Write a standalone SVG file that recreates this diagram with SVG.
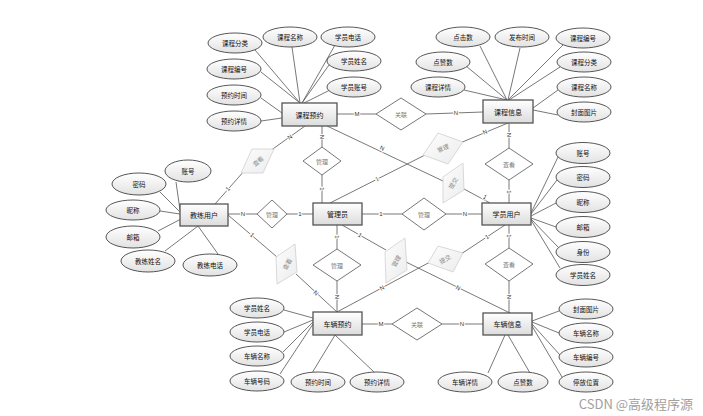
<svg xmlns="http://www.w3.org/2000/svg" width="703" height="416" viewBox="0 0 703 416">
<defs>
<linearGradient id="gEnt" x1="0" y1="0" x2="0" y2="1"><stop offset="0" stop-color="#ffffff"/><stop offset="1" stop-color="#dcdcdc"/></linearGradient>
<linearGradient id="gAttr" x1="0" y1="0" x2="0" y2="1"><stop offset="0" stop-color="#ffffff"/><stop offset="1" stop-color="#e2e2e2"/></linearGradient>
<linearGradient id="gPar" x1="0" y1="0" x2="1" y2="1"><stop offset="0" stop-color="#fdfdfd"/><stop offset="1" stop-color="#ececec"/></linearGradient>
</defs>
<style>
text{font-family:"Noto Sans CJK SC","Liberation Sans",sans-serif;text-anchor:middle;dominant-baseline:central}
.ent rect{fill:url(#gEnt);stroke:#555;stroke-width:1.3}
.ent text{font-size:7px;fill:#111}
.attr ellipse{fill:url(#gAttr);stroke:#444;stroke-width:0.9}
.attr text{font-size:6.5px;fill:#111}
.rel polygon{fill:#fff;stroke:#666;stroke-width:0.9}
.rel text{font-size:6px;fill:#777}
.par polygon{fill:url(#gPar);stroke:#cfcfcf;stroke-width:0.8}
.par text{font-size:6px;fill:#888}
#connectors line{stroke:#555;stroke-width:0.8;fill:none}
.lbl{font-family:"Liberation Sans",sans-serif;font-size:6px;fill:#333;stroke:#fff;stroke-width:2;paint-order:stroke}
.wm{font-size:13px;fill:#a0a0a0;text-anchor:end}
</style>
<rect width="703" height="416" fill="#fff"/>
<g id="connectors">
<line x1="255" y1="50" x2="300" y2="103"/>
<line x1="261" y1="72" x2="300" y2="103"/>
<line x1="261" y1="98" x2="282" y2="113"/>
<line x1="261" y1="121" x2="282" y2="118"/>
<line x1="292" y1="47" x2="300" y2="103"/>
<line x1="335" y1="45" x2="302" y2="103"/>
<line x1="329" y1="65" x2="302" y2="103"/>
<line x1="330" y1="90" x2="304" y2="103"/>
<line x1="480" y1="46" x2="507" y2="100"/>
<line x1="466" y1="66" x2="507" y2="100"/>
<line x1="464" y1="90" x2="507" y2="100"/>
<line x1="520" y1="48" x2="508" y2="100"/>
<line x1="563" y1="45" x2="508" y2="100"/>
<line x1="560" y1="67" x2="509" y2="100"/>
<line x1="558" y1="90" x2="533" y2="108"/>
<line x1="558" y1="115" x2="533" y2="110"/>
<line x1="176" y1="182" x2="180" y2="210"/>
<line x1="160" y1="192" x2="180" y2="212"/>
<line x1="160" y1="211" x2="180" y2="214"/>
<line x1="158" y1="231" x2="181" y2="219"/>
<line x1="165" y1="251" x2="198" y2="226"/>
<line x1="218" y1="254" x2="198" y2="226"/>
<line x1="558" y1="157" x2="531" y2="213"/>
<line x1="557" y1="180" x2="531" y2="214"/>
<line x1="556" y1="203" x2="531" y2="216"/>
<line x1="556" y1="227" x2="531" y2="218"/>
<line x1="558" y1="247" x2="531" y2="219"/>
<line x1="560" y1="268" x2="531" y2="220"/>
<line x1="284" y1="310" x2="313" y2="318"/>
<line x1="284" y1="332" x2="313" y2="320"/>
<line x1="283" y1="352" x2="313" y2="322"/>
<line x1="280" y1="374" x2="313" y2="324"/>
<line x1="312" y1="373" x2="335" y2="335"/>
<line x1="375" y1="373" x2="335" y2="335"/>
<line x1="559" y1="311" x2="532" y2="321"/>
<line x1="559" y1="333" x2="532" y2="322"/>
<line x1="560" y1="355" x2="532" y2="324"/>
<line x1="562" y1="377" x2="532" y2="326"/>
<line x1="488" y1="373" x2="505" y2="335"/>
<line x1="530" y1="373" x2="508" y2="335"/>
<line x1="337" y1="114" x2="376" y2="114"/>
<line x1="426" y1="114" x2="483" y2="112"/>
<line x1="322" y1="126" x2="322" y2="147"/>
<line x1="322" y1="175" x2="322" y2="203"/>
<line x1="228" y1="214" x2="257" y2="214"/>
<line x1="287" y1="214" x2="313" y2="214"/>
<line x1="362" y1="214" x2="402" y2="214"/>
<line x1="446" y1="214" x2="482" y2="214"/>
<line x1="337" y1="225" x2="337" y2="249"/>
<line x1="337" y1="281" x2="337" y2="312"/>
<line x1="509" y1="123" x2="509" y2="148"/>
<line x1="509" y1="180" x2="509" y2="203"/>
<line x1="509" y1="225" x2="509" y2="248"/>
<line x1="509" y1="281" x2="509" y2="313"/>
<line x1="362" y1="324" x2="392" y2="324"/>
<line x1="442" y1="324" x2="483" y2="324"/>
<line x1="215" y1="204" x2="245" y2="170"/>
<line x1="270" y1="151" x2="305" y2="126"/>
<line x1="330" y1="203" x2="425" y2="155"/>
<line x1="460" y1="143" x2="508" y2="123"/>
<line x1="327" y1="126" x2="443" y2="181"/>
<line x1="464" y1="189" x2="490" y2="203"/>
<line x1="337" y1="312" x2="430" y2="262"/>
<line x1="461" y1="254" x2="505" y2="225"/>
<line x1="342" y1="225" x2="386" y2="250"/>
<line x1="406" y1="262" x2="510" y2="313"/>
<line x1="228" y1="215" x2="277" y2="257"/>
<line x1="296" y1="274" x2="337" y2="312"/>
<text class="lbl" x="357" y="114">M</text>
<text class="lbl" x="456" y="113">N</text>
<text class="lbl" x="322" y="137" transform="rotate(90 322 137)">N</text>
<text class="lbl" x="322" y="189" transform="rotate(90 322 189)">1</text>
<text class="lbl" x="243" y="214">N</text>
<text class="lbl" x="300" y="214">1</text>
<text class="lbl" x="381" y="214">1</text>
<text class="lbl" x="465" y="214">N</text>
<text class="lbl" x="337" y="237" transform="rotate(90 337 237)">1</text>
<text class="lbl" x="337" y="297" transform="rotate(90 337 297)">N</text>
<text class="lbl" x="509" y="135" transform="rotate(90 509 135)">N</text>
<text class="lbl" x="509" y="192" transform="rotate(90 509 192)">1</text>
<text class="lbl" x="509" y="236" transform="rotate(90 509 236)">1</text>
<text class="lbl" x="509" y="297" transform="rotate(90 509 297)">N</text>
<text class="lbl" x="381" y="324">M</text>
<text class="lbl" x="462" y="324">N</text>
<text class="lbl" x="228" y="189" transform="rotate(-48 228 189)">1</text>
<text class="lbl" x="290" y="137" transform="rotate(-35 290 137)">N</text>
<text class="lbl" x="377" y="179" transform="rotate(-27 377 179)">1</text>
<text class="lbl" x="485" y="132" transform="rotate(-23 485 132)">N</text>
<text class="lbl" x="382" y="148" transform="rotate(25 382 148)">N</text>
<text class="lbl" x="485" y="197" transform="rotate(28 485 197)">1</text>
<text class="lbl" x="382" y="288" transform="rotate(-28 382 288)">N</text>
<text class="lbl" x="487" y="237" transform="rotate(-33 487 237)">1</text>
<text class="lbl" x="360" y="235" transform="rotate(30 360 235)">1</text>
<text class="lbl" x="458" y="288" transform="rotate(27 458 288)">N</text>
<text class="lbl" x="252" y="235" transform="rotate(40 252 235)">1</text>
<text class="lbl" x="316" y="293" transform="rotate(43 316 293)">N</text>
</g>
<g id="kcyy" class="ent"><rect x="282" y="103" width="55" height="23"/><text x="309.5" y="114.5">课程预约</text></g>
<g id="kcxx" class="ent"><rect x="483" y="100" width="50" height="23"/><text x="508" y="111.5">课程信息</text></g>
<g id="jlyh" class="ent"><rect x="180" y="204" width="48" height="22"/><text x="204" y="215">教练用户</text></g>
<g id="gly" class="ent"><rect x="313" y="203" width="49" height="22"/><text x="337.5" y="214">管理员</text></g>
<g id="xyyh" class="ent"><rect x="482" y="203" width="49" height="22"/><text x="506.5" y="214">学员用户</text></g>
<g id="clyy" class="ent"><rect x="313" y="312" width="49" height="23"/><text x="337.5" y="323.5">车辆预约</text></g>
<g id="clxx" class="ent"><rect x="483" y="313" width="49" height="22"/><text x="507.5" y="324">车辆信息</text></g>
<g id="r-gl1" class="rel"><polygon points="376,114 401,98 426,114 401,130"/><text x="401" y="114">关联</text></g>
<g id="r-gl2" class="rel"><polygon points="392,324 417,308 442,324 417,340"/><text x="417" y="324">关联</text></g>
<g id="r-gl-top" class="rel"><polygon points="303,161 322,147 341,161 322,175"/><text x="322" y="161">管理</text></g>
<g id="r-gl-left" class="rel"><polygon points="257,214 272,200 287,214 272,228"/><text x="272" y="214">管理</text></g>
<g id="r-gl-right" class="rel"><polygon points="402,214 424,198 446,214 424,230"/><text x="424" y="214">管理</text></g>
<g id="r-gl-bottom" class="rel"><polygon points="313,265 337,249 361,265 337,281"/><text x="337" y="265">管理</text></g>
<g id="r-ck-top" class="rel"><polygon points="485,164 509,148 533,164 509,180"/><text x="509" y="164">查看</text></g>
<g id="r-ck-bottom" class="rel"><polygon points="485,264 509,248 533,264 509,281"/><text x="509" y="264">查看</text></g>
<g id="p-ck1" class="par"><polygon points="252,149 274,149 263,173 241,173"/><text x="258" y="161" transform="rotate(-40 258 161)">查看</text></g>
<g id="p-gl1" class="par"><polygon points="423,155 438,133 463,142 448,164"/><text x="443" y="148" transform="rotate(-25 443 148)">管理</text></g>
<g id="p-tj1" class="par"><polygon points="443,177 463,163 464,190 443,203"/><text x="453" y="183" transform="rotate(-60 453 183)">提交</text></g>
<g id="p-tj2" class="par"><polygon points="428,263 438,246 463,253 453,272"/><text x="445" y="259" transform="rotate(-30 445 259)">提交</text></g>
<g id="p-gl2" class="par"><polygon points="385,252 405,238 407,270 386,283"/><text x="396" y="261" transform="rotate(-60 396 261)">管理</text></g>
<g id="p-ck2" class="par"><polygon points="276,257 295,244 297,272 277,284"/><text x="287" y="264" transform="rotate(-60 287 264)">查看</text></g>
<g id="a1" class="attr"><ellipse cx="235" cy="43" rx="27" ry="10"/><text x="235" y="43">课程分类</text></g>
<g id="a2" class="attr"><ellipse cx="290" cy="37" rx="27" ry="10"/><text x="290" y="37">课程名称</text></g>
<g id="a3" class="attr"><ellipse cx="348" cy="37" rx="27" ry="10"/><text x="348" y="37">学员电话</text></g>
<g id="a4" class="attr"><ellipse cx="354" cy="61" rx="27" ry="10"/><text x="354" y="61">学员姓名</text></g>
<g id="a5" class="attr"><ellipse cx="354" cy="87" rx="27" ry="10"/><text x="354" y="87">学员账号</text></g>
<g id="a6" class="attr"><ellipse cx="234" cy="69" rx="27" ry="10"/><text x="234" y="69">课程编号</text></g>
<g id="a7" class="attr"><ellipse cx="234" cy="95" rx="27" ry="10"/><text x="234" y="95">预约时间</text></g>
<g id="a8" class="attr"><ellipse cx="234" cy="121" rx="27" ry="10"/><text x="234" y="121">预约详情</text></g>
<g id="b1" class="attr"><ellipse cx="463" cy="37" rx="27" ry="10"/><text x="463" y="37">点击数</text></g>
<g id="b2" class="attr"><ellipse cx="522" cy="37" rx="27" ry="10"/><text x="522" y="37">发布时间</text></g>
<g id="b3" class="attr"><ellipse cx="583" cy="38" rx="27" ry="10"/><text x="583" y="38">课程编号</text></g>
<g id="b4" class="attr"><ellipse cx="443" cy="62" rx="27" ry="10"/><text x="443" y="62">点赞数</text></g>
<g id="b5" class="attr"><ellipse cx="584" cy="62" rx="27" ry="10"/><text x="584" y="62">课程分类</text></g>
<g id="b6" class="attr"><ellipse cx="438" cy="87" rx="27" ry="10"/><text x="438" y="87">课程详情</text></g>
<g id="b7" class="attr"><ellipse cx="584" cy="87" rx="27" ry="10"/><text x="584" y="87">课程名称</text></g>
<g id="b8" class="attr"><ellipse cx="584" cy="112" rx="27" ry="10"/><text x="584" y="112">封面图片</text></g>
<g id="c1" class="attr"><ellipse cx="188" cy="171" rx="23" ry="11"/><text x="188" y="171">账号</text></g>
<g id="c2" class="attr"><ellipse cx="139" cy="184" rx="27" ry="11"/><text x="139" y="184">密码</text></g>
<g id="c3" class="attr"><ellipse cx="133" cy="210" rx="27" ry="10"/><text x="133" y="210">昵称</text></g>
<g id="c4" class="attr"><ellipse cx="133" cy="237" rx="27" ry="11"/><text x="133" y="237">邮箱</text></g>
<g id="c5" class="attr"><ellipse cx="148" cy="261" rx="27" ry="11"/><text x="148" y="261">教练姓名</text></g>
<g id="c6" class="attr"><ellipse cx="210" cy="265" rx="27" ry="11"/><text x="210" y="265">教练电话</text></g>
<g id="d1" class="attr"><ellipse cx="583" cy="153" rx="27" ry="10.5"/><text x="583" y="153">账号</text></g>
<g id="d2" class="attr"><ellipse cx="583" cy="177" rx="27" ry="10.5"/><text x="583" y="177">密码</text></g>
<g id="d3" class="attr"><ellipse cx="583" cy="202" rx="27" ry="10.5"/><text x="583" y="202">昵称</text></g>
<g id="d4" class="attr"><ellipse cx="583" cy="227" rx="27" ry="10.5"/><text x="583" y="227">邮箱</text></g>
<g id="d5" class="attr"><ellipse cx="583" cy="252" rx="27" ry="10.5"/><text x="583" y="252">身份</text></g>
<g id="d6" class="attr"><ellipse cx="583" cy="275" rx="27" ry="10.5"/><text x="583" y="275">学员姓名</text></g>
<g id="e1" class="attr"><ellipse cx="257" cy="308" rx="27" ry="10"/><text x="257" y="308">学员姓名</text></g>
<g id="e2" class="attr"><ellipse cx="257" cy="332" rx="27" ry="10"/><text x="257" y="332">学员电话</text></g>
<g id="e3" class="attr"><ellipse cx="257" cy="356" rx="27" ry="10"/><text x="257" y="356">车辆名称</text></g>
<g id="e4" class="attr"><ellipse cx="257" cy="381" rx="27" ry="10"/><text x="257" y="381">车辆号码</text></g>
<g id="e5" class="attr"><ellipse cx="318" cy="382" rx="27" ry="10"/><text x="318" y="382">预约时间</text></g>
<g id="e6" class="attr"><ellipse cx="377" cy="382" rx="27" ry="10"/><text x="377" y="382">预约详情</text></g>
<g id="f1" class="attr"><ellipse cx="586" cy="309" rx="27" ry="10"/><text x="586" y="309">封面图片</text></g>
<g id="f2" class="attr"><ellipse cx="586" cy="333" rx="27" ry="10"/><text x="586" y="333">车辆名称</text></g>
<g id="f3" class="attr"><ellipse cx="586" cy="357" rx="27" ry="10"/><text x="586" y="357">车辆编号</text></g>
<g id="f4" class="attr"><ellipse cx="586" cy="382" rx="27" ry="10"/><text x="586" y="382">停放位置</text></g>
<g id="f5" class="attr"><ellipse cx="465" cy="382" rx="27" ry="10"/><text x="465" y="382">车辆详情</text></g>
<g id="f6" class="attr"><ellipse cx="523" cy="382" rx="25" ry="10"/><text x="523" y="382">点赞数</text></g>
<text class="wm" x="693" y="403">CSDN @高级程序源</text>
</svg>
